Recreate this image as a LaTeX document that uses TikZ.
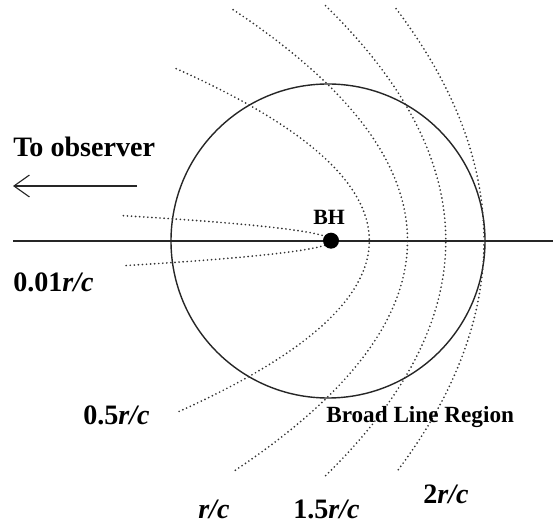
\documentclass[tikz,border=0pt]{standalone}
\usepackage{fontspec}
\setmainfont{Liberation Serif}
\usetikzlibrary{arrows.meta}
\begin{document}
\begin{tikzpicture}[x=2.5mm,y=-2.5mm,
  dotline/.style={line width=1.35pt, dash pattern=on 0pt off 2.9pt, line cap=round, black!80},
  lbl/.style={anchor=base west, inner sep=0pt, font=\fontsize{20}{22}\selectfont\bfseries},
  solidline/.style={line width=1pt, black!85}]
\useasboundingbox (0,0) rectangle (55.3,52.7);
% axis
\coordinate (axL) at (1.3,24.07);
\coordinate (axR) at (55.3,24.07);
\draw[line width=1.3pt, black!85] (axL) -- (axR);
% broad line region
\node[draw, solidline, circle, minimum size=31.4*2.5mm, inner sep=0pt] (blr) at (32.8,24.1) {};
% isodelay parabolas (focus at BH)
\foreach \a/\ym in {0.075/2.5, 3.83/17.2, 7.65/23.1, 11.48/23.5, 15.3/23.2}{
  \draw[dotline] plot[domain=-\ym:\ym, samples=160, smooth] ({33.1+\a-\x*\x/(4*\a)},{24.07+\x});
}
% black hole
\node[circle, fill=black, minimum size=4mm, inner sep=0pt] (bh) at (33.1,24.07) {};
\node[anchor=base, inner sep=0pt, font=\fontsize{15.5}{17}\selectfont\bfseries] (bhl) at (32.9,22.5) {BH};
% observer arrow
\coordinate (arS) at (13.7,18.6);
\coordinate (arE) at (1.3,18.6);
\draw[line width=0.8pt, black!85, -{Straight Barb[length=11pt, width=15.6pt, line width=0.8pt]}] (arS) -- (arE);
\node[lbl] (obs) at (1.3,15.7) {To observer};
% labels
\node[lbl] (l001) at (1.3,29.2) {0.01\textit{r/c}};
\node[lbl] (l05) at (8.3,42.5) {0.5\textit{r/c}};
\node[lbl] (l1) at (19.8,51.9) {\textit{r/c}};
\node[lbl] (l15) at (29.3,51.9) {1.5\textit{r/c}};
\node[lbl] (l2) at (42.3,50.4) {2\textit{r/c}};
\node[anchor=base west, inner sep=0pt, font=\fontsize{16.5}{18}\selectfont\bfseries] (blrl) at (32.6,42.3) {Broad Line Region};
\end{tikzpicture}
\end{document}
